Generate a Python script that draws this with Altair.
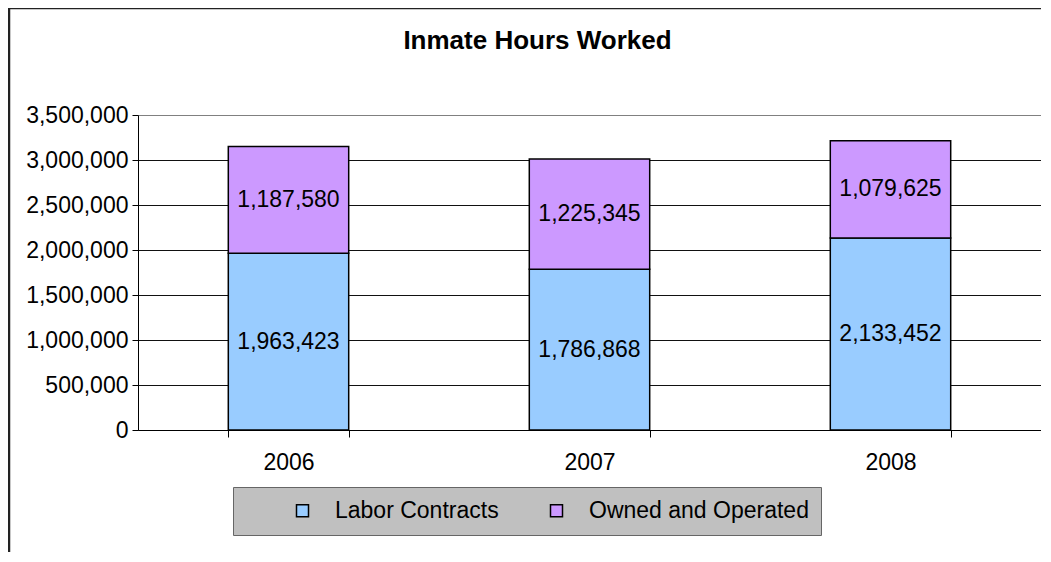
import altair as alt
import pandas as pd

years = ["2006", "2007", "2008"]
labor_contracts = [1963423, 1786868, 2133452]
owned_operated = [1187580, 1225345, 1079625]
series_names = ["Labor Contracts", "Owned and Operated"]
series_colors = ["#99CCFF", "#CC99FF"]
y_tick_values = [0, 500000, 1000000, 1500000, 2000000, 2500000, 3000000, 3500000]
title_text = "Inmate Hours Worked"

rows = []
for i, yr in enumerate(years):
    base = 0
    for k, (name, vals) in enumerate(zip(series_names, [labor_contracts, owned_operated])):
        v = vals[i]
        rows.append({"year": yr, "series": name, "value": v, "order": k,
                     "y0": base, "y1": base + v, "mid": base + v / 2})
        base += v
df = pd.DataFrame(rows)

FONT = "Liberation Sans"
PAD_CHAR = "\u2003"

xaxis = alt.Axis(labelAngle=0, tickBand="extent", tickSize=7, tickColor="black",
                 domainColor="black", labelFont=FONT, labelFontSize=23,
                 labelColor="black", labelPadding=14, grid=False)
yaxis = alt.Axis(values=y_tick_values, labelExpr="format(datum.value, ',')",
                 tickSize=6, tickColor="black",
                 domainColor="black", labelFont=FONT, labelFontSize=23,
                 labelColor="black", labelPadding=4, grid=True,
                 gridColor=alt.condition(alt.datum.value == 3500000,
                                         alt.value("#808080"), alt.value("#111111")),
                 gridWidth=1)
xscale = alt.Scale(paddingInner=0.6, paddingOuter=0.3)
yscale = alt.Scale(domain=[0, 3500000], nice=False)

bars = alt.Chart(df).mark_bar(stroke="black", strokeWidth=1.5).encode(
    x=alt.X("year:N", sort=years, title=None, scale=xscale, axis=xaxis),
    y=alt.Y("y0:Q", scale=yscale, title=None, axis=yaxis),
    y2="y1:Q",
    color=alt.Color("series:N", sort=series_names,
                    scale=alt.Scale(domain=series_names, range=series_colors),
                    legend=alt.Legend(title=None, orient="none", legendX=95, legendY=372,
                                      direction="horizontal", symbolType="square",
                                      symbolSize=144, symbolStrokeColor="black",
                                      symbolStrokeWidth=1.5, symbolOpacity=1,
                                      labelFont=FONT, labelFontSize=23, labelColor="black",
                                      labelLimit=500,
                                      padding=12, symbolOffset=46, labelOffset=21,
                                      columnPadding=-8,
                                      labelExpr="datum.label == 'Owned and Operated' ? datum.label + '"
                                                + PAD_CHAR * 3 + "' : datum.label",
                                      fillColor="#C0C0C0", strokeColor="#666666")),
    order=alt.Order("order:Q"),
)

labels = alt.Chart(df).mark_text(font=FONT, fontSize=23, color="black",
                                 align="center", baseline="middle").encode(
    x=alt.X("year:N", sort=years, title=None, scale=xscale, axis=xaxis),
    y=alt.Y("mid:Q", scale=yscale, title=None, axis=yaxis),
    text=alt.Text("value:Q", format=","),
)

frame_df = pd.DataFrame({"k": [0]})
frame_left = alt.Chart(frame_df).mark_rule(color="#222222", strokeWidth=2.5).encode(
    x=alt.value(-129), y=alt.value(-107), y2=alt.value(445))
frame_top = alt.Chart(frame_df).mark_rule(color="#222222", strokeWidth=2.5).encode(
    x=alt.value(-130), x2=alt.value(910), y=alt.value(-107))

chart = alt.layer(bars, labels, frame_left, frame_top).properties(
    width=903, height=315,
    autosize=alt.AutoSizeParams(type="none"),
    padding={"left": 130, "top": 107, "right": 0, "bottom": 122},
    title=alt.TitleParams(title_text, font=FONT, fontSize=26, fontWeight="bold",
                          color="black", anchor="middle", frame="group",
                          dx=-52, offset=-47),
).configure_view(
    fill="#C0C0C0", stroke="#808080", strokeWidth=1.5
).configure(background="white")

chart.save("out.html", embed_options={"renderer": "svg", "actions": False})
